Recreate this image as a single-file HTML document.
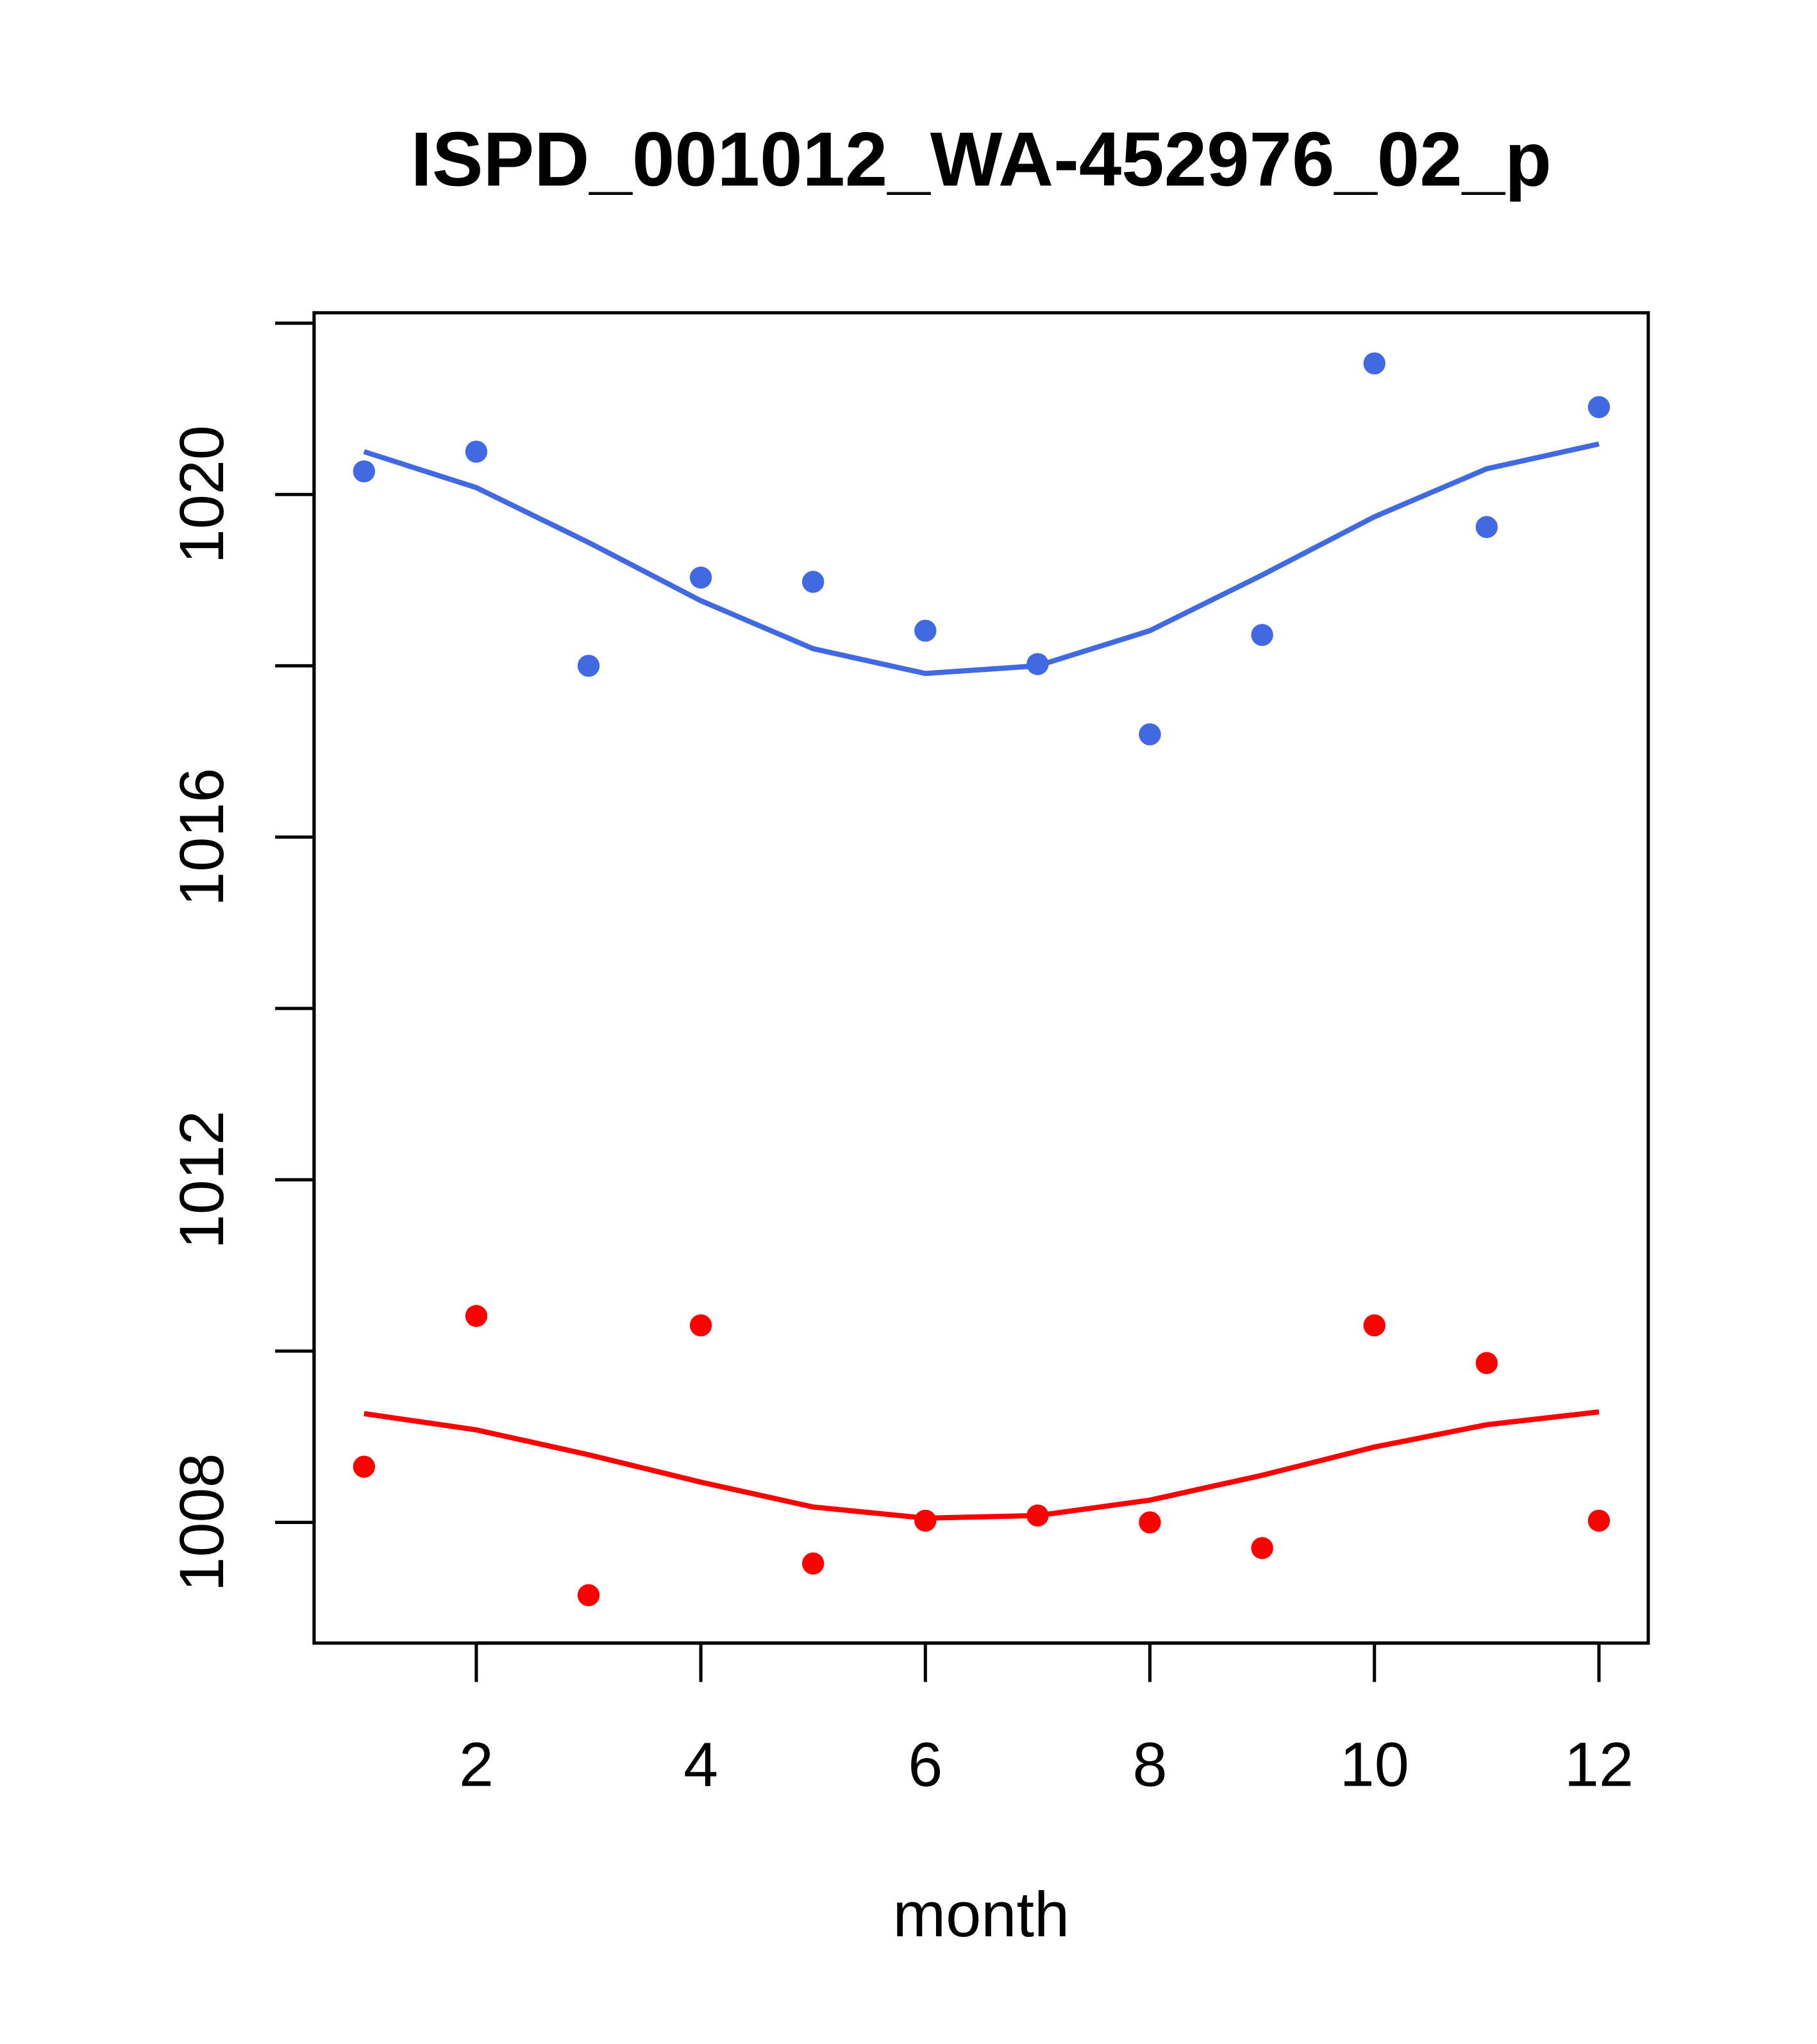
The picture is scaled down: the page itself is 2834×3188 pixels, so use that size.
<!DOCTYPE html>
<html><head><meta charset="utf-8"><style>
html,body{margin:0;padding:0;background:#fff;}
svg{display:block;font-family:"Liberation Sans",Arial,sans-serif;}
</style></head><body>
<svg id="chart" width="2834" height="3188" viewBox="0 0 1400 1574.9" preserveAspectRatio="none" xmlns="http://www.w3.org/2000/svg">
<text x="756" y="143" text-anchor="middle" font-size="59" font-weight="bold">ISPD_001012_WA-452976_02_p</text>
<rect x="242" y="241" width="1028" height="1025" fill="none" stroke="#000" stroke-width="2.5"/>
<g id="axes"></g>
<g id="series"></g>
<text x="756" y="1492" text-anchor="middle" font-size="49">month</text>
</svg>
<script>
const months=[1,2,3,4,5,6,7,8,9,10,11,12];
const bluePoints=[1020.27,1020.5,1018.0,1019.03,1018.98,1018.41,1018.02,1017.2,1018.36,1021.53,1019.62,1021.02];
const blueLine=[1020.5,1020.08,1019.44,1018.76,1018.2,1017.91,1018.0,1018.41,1019.06,1019.74,1020.3,1020.59];
const redPoints=[1008.65,1010.41,1007.15,1010.3,1007.52,1008.02,1008.08,1008.0,1007.7,1010.3,1009.86,1008.02];
const redLine=[1009.27,1009.08,1008.79,1008.47,1008.18,1008.05,1008.08,1008.26,1008.55,1008.88,1009.14,1009.29];
const xTicks=[2,4,6,8,10,12];
const yTicks=[1008,1010,1012,1014,1016,1018,1020,1022];
const yLabels=[1008,1012,1016,1020];
const NS="http://www.w3.org/2000/svg";
const xs=v=>367+(v-2)*86.5;
const ys=v=>381-(v-1020)*66;
function mk(tag,attrs,parent){const e=document.createElementNS(NS,tag);for(const k in attrs)e.setAttribute(k,attrs[k]);parent.appendChild(e);return e;}
const ax=document.getElementById('axes');
mk('line',{x1:xs(2),x2:xs(12),y1:1266,y2:1266,stroke:'#000','stroke-width':2.5},ax);
xTicks.forEach(t=>{
 const l=mk('line',{x1:xs(t),x2:xs(t),y1:1266,y2:1296,stroke:'#000','stroke-width':2.5},ax);
 
 
 const tx=mk('text',{x:xs(t),y:1376,'text-anchor':'middle','font-size':48},ax);
 tx.textContent=t;
 
 
});
mk('line',{x1:242,x2:242,y1:ys(1008),y2:ys(1022),stroke:'#000','stroke-width':2.5},ax);
yTicks.forEach(t=>{
 const l=mk('line',{x1:212,x2:242,y1:ys(t),y2:ys(t),stroke:'#000','stroke-width':2.5},ax);
 
 
});
yLabels.forEach(t=>{
 const tx=mk('text',{x:0,y:0,'text-anchor':'middle','font-size':48,transform:`translate(172,${ys(t)}) rotate(-90)`},ax);
 tx.textContent=t;
 
 
});
const sg=document.getElementById('series');
function series(pts,line,color,name){
 const pl=mk('polyline',{points:months.map((m,i)=>xs(m)+','+ys(line[i])).join(' '),fill:'none',stroke:color,'stroke-width':4},sg);
 
 
 months.forEach((m,i)=>{
  const c=mk('circle',{cx:xs(m),cy:ys(pts[i]),r:8.5,fill:color},sg);
  
  
 });
}
series(bluePoints,blueLine,'#4169e1','blue');
series(redPoints,redLine,'#ff0000','red');
</script>
</body></html>
